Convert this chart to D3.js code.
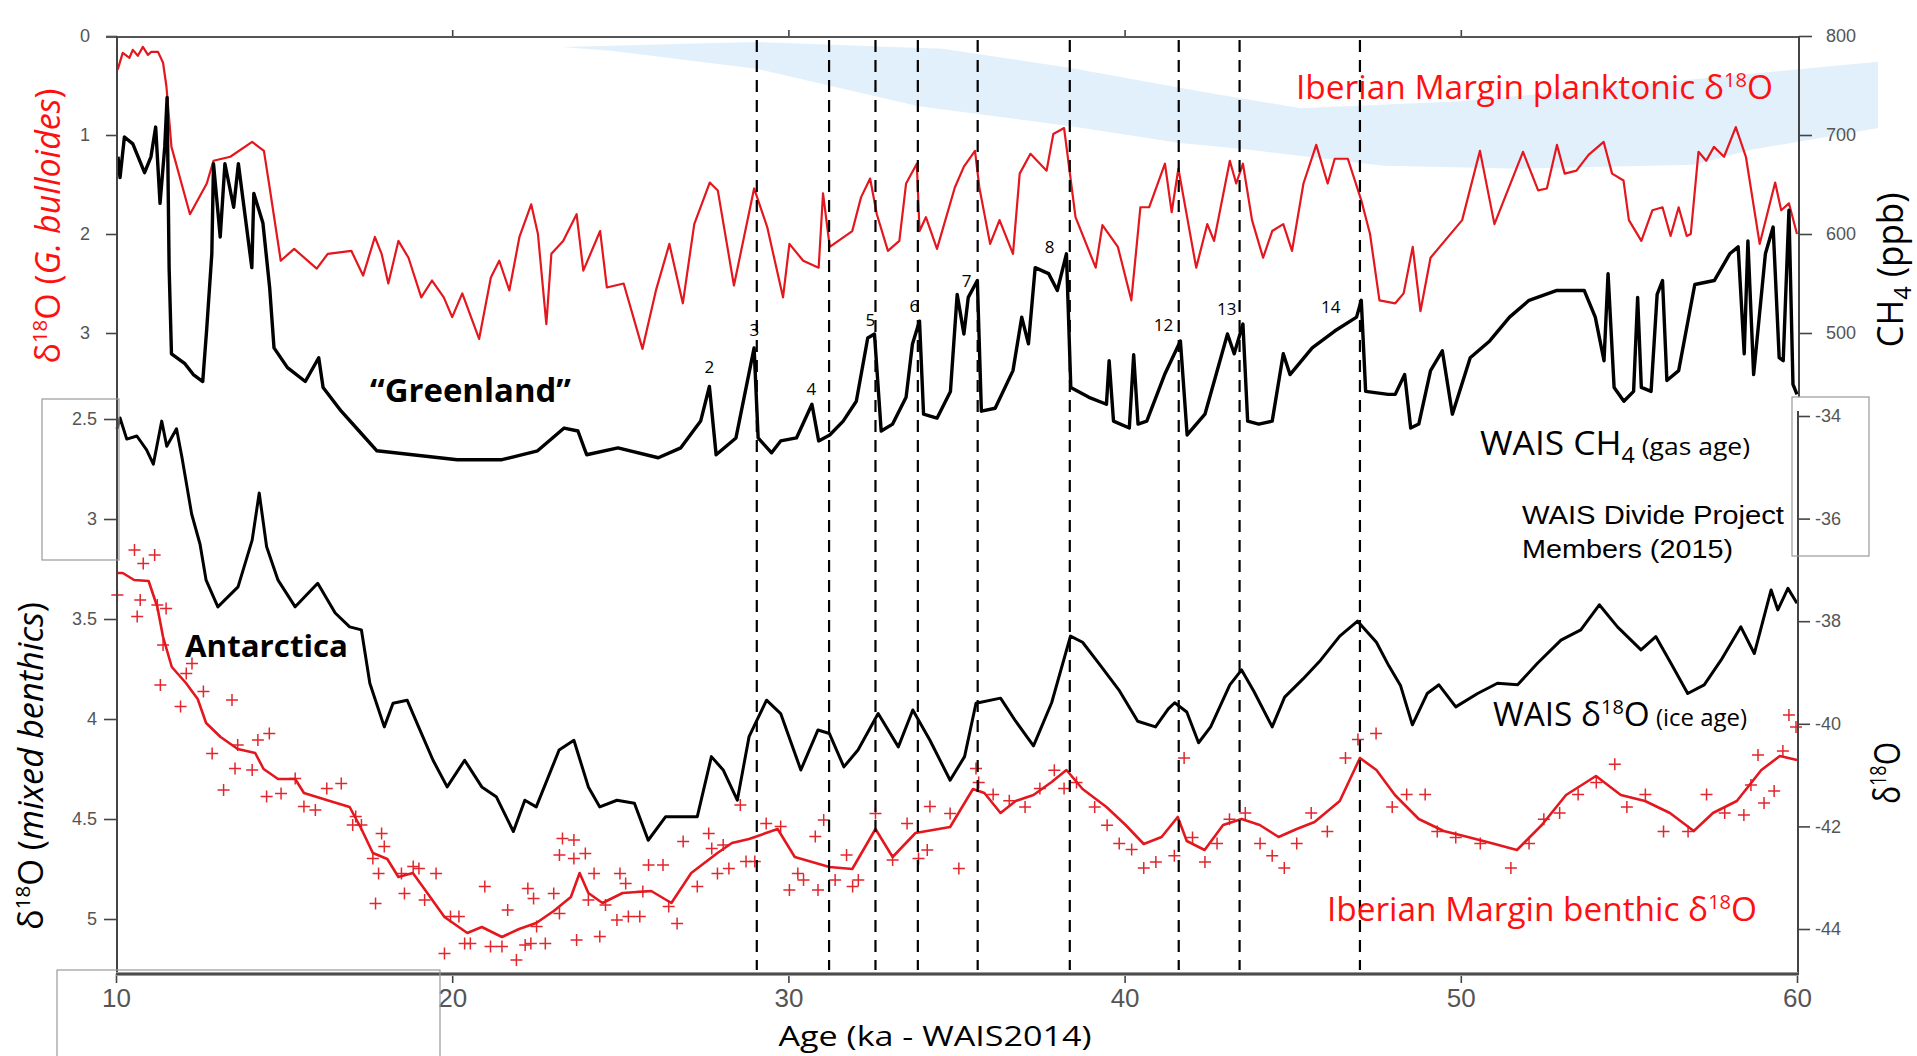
<!DOCTYPE html>
<html lang="en">
<head>
<meta charset="utf-8">
<title>Iberian Margin and WAIS records, 10-60 ka</title>
<style>
  body {margin: 0; background: #fff;}
  svg  {display: block;}
  text {font-family: "Open Sans", "Noto Sans", sans-serif;}
  .tick text {font-family: "Liberation Sans", Arial, sans-serif; fill: #555;}
</style>
</head>
<body>

<svg id="chart" width="1917" height="1056"></svg>

<script src="https://d3js.org/d3.v7.min.js"></script>
<script>
// ---- data (age in ka) ----
const ageTicks   = [10, 20, 30, 40, 50, 60];
const plankTicks = [0, 1, 2, 3];
const ch4Ticks   = [800, 700, 600, 500];
const benthTicks = [2.5, 3, 3.5, 4, 4.5, 5];
const waisTicks  = [-34, -36, -38, -40, -42, -44];

// Dansgaard-Oeschger onsets (dashed lines)
const events = [29.06, 31.21, 32.59, 33.85, 35.63, 38.37, 41.61, 43.42, 47.0];
// interstadial numbers [label, age, ch4 ppb]
const eventLabels = [["2",27.65,466],["3",28.99,503],["4",30.68,443],["5",32.44,513],["6",33.75,527],
  ["7",35.3,552],["8",37.77,587],["12",41.16,508],["13",43.04,524],["14",46.13,526]];

// Iberian Margin planktonic d18O (G. bulloides) [age, permil]
const planktonic = [[10.05,0.34],[10.2,0.17],[10.4,0.22],[10.5,0.14],[10.65,0.2],[10.8,0.11],[10.95,0.19],[11.05,0.16],
  [11.25,0.16],[11.4,0.27],[11.5,0.51],[11.65,1.12],[12.2,1.8],[12.7,1.49],[12.9,1.26],[13.4,1.22],[14.05,1.07],
  [14.4,1.16],[14.57,1.53],[14.9,2.27],[15.3,2.15],[15.97,2.35],[16.3,2.2],[17.0,2.17],[17.35,2.42],[17.7,2.03],
  [17.9,2.2],[18.1,2.5],[18.4,2.07],[18.7,2.24],[19.08,2.64],[19.4,2.47],[19.75,2.64],[20.0,2.84],[20.3,2.6],
  [20.8,3.06],[21.15,2.44],[21.4,2.27],[21.7,2.57],[22.0,2.03],[22.35,1.7],[22.55,2.0],[22.8,2.91],[22.95,2.2],
  [23.3,2.07],[23.7,1.8],[23.9,2.37],[24.4,1.97],[24.6,2.54],[25.1,2.5],[25.66,3.16],[26.06,2.57],[26.46,2.1],
  [26.86,2.7],[27.2,1.9],[27.66,1.48],[27.9,1.56],[28.38,2.52],[28.98,1.54],[29.37,1.93],[29.84,2.64],[30.03,2.1],
  [30.44,2.27],[30.9,2.34],[31.03,1.59],[31.23,2.13],[31.9,1.97],[32.16,1.63],[32.43,1.44],[32.63,1.8],[32.96,2.17],
  [33.3,2.07],[33.5,1.49],[33.82,1.29],[33.9,1.97],[34.09,1.83],[34.42,2.15],[34.95,1.53],[35.22,1.32],[35.55,1.16],
  [35.68,1.53],[36.0,2.1],[36.28,1.86],[36.68,2.2],[36.88,1.39],[37.2,1.19],[37.68,1.36],[37.88,0.99],[38.2,0.93],
  [38.54,1.83],[39.14,2.34],[39.34,1.91],[39.8,2.13],[40.2,2.67],[40.47,1.73],[40.73,1.73],[41.2,1.29],[41.4,1.78],
  [41.6,1.34],[42.13,2.34],[42.46,1.9],[42.66,2.07],[43.13,1.26],[43.32,1.49],[43.52,1.29],[43.79,1.86],[44.12,2.24],
  [44.39,1.97],[44.72,1.9],[44.98,2.17],[45.32,1.49],[45.7,1.1],[46.04,1.49],[46.25,1.24],[46.64,1.24],[47.04,1.66],
  [47.3,2.0],[47.58,2.67],[48.05,2.7],[48.3,2.6],[48.57,2.13],[48.8,2.78],[49.1,2.24],[50.04,1.86],[50.57,1.16],
  [51.0,1.9],[51.85,1.17],[52.3,1.56],[52.56,1.54],[52.86,1.1],[53.09,1.39],[53.44,1.36],[53.8,1.2],[54.25,1.07],
  [54.5,1.39],[54.84,1.46],[55.0,1.86],[55.37,2.07],[55.7,1.76],[56.0,1.73],[56.24,2.02],[56.48,1.73],[56.72,2.02],
  [56.84,2.0],[57.07,1.17],[57.3,1.26],[57.53,1.12],[57.83,1.22],[58.18,0.92],[58.48,1.22],[58.89,2.1],[59.35,1.48],
  [59.53,1.76],[59.76,1.69],[60.0,2.0]];

// WAIS Divide CH4, gas age [age, ppb]
const ch4 = [[10.06,678],[10.12,657],[10.25,698],[10.5,691],[10.85,662],[11.04,678],[11.18,708],[11.31,631],
  [11.45,688],[11.52,738],[11.58,566],[11.65,479],[12.05,469],[12.3,458],[12.58,451],[12.7,505],[12.85,580],[12.9,671],
  [13.1,597],[13.24,671],[13.5,627],[13.64,671],[14.04,566],[14.1,641],[14.37,611],[14.57,546],[14.7,485],
  [15.1,465],[15.63,451],[16.03,475],[16.16,445],[16.7,421],[17.23,401],[17.76,381],[18.82,377],[20.15,372],
  [21.48,372],[22.54,381],[23.33,404],[23.74,401],[24.0,377],[24.93,384],[26.13,374],[26.8,384],[27.39,411],
  [27.65,446],[27.85,377],[28.44,394],[28.98,485],[29.1,394],[29.5,379],[29.77,391],[30.24,394],[30.7,428],
  [30.9,391],[31.23,397],[31.63,411],[32.02,431],[32.36,495],[32.56,499],[32.76,401],[33.1,408],[33.5,435],
  [33.69,489],[33.9,512],[34.02,418],[34.42,414],[34.82,441],[35.02,539],[35.22,499],[35.35,536],[35.62,553],
  [35.74,421],[36.15,424],[36.68,462],[36.94,516],[37.14,489],[37.34,566],[37.74,560],[38.0,543],[38.27,580],
  [38.4,445],[38.94,435],[39.46,428],[39.54,472],[39.67,411],[40.14,404],[40.27,478],[40.4,408],[40.66,411],
  [41.19,458],[41.66,492],[41.86,397],[42.39,418],[43.06,499],[43.26,479],[43.52,509],[43.66,411],[43.99,408],
  [44.39,411],[44.72,479],[44.92,458],[45.58,485],[46.25,502],[46.9,516],[47.04,533],[47.17,441],[47.84,438],
  [48.05,438],[48.33,458],[48.51,404],[48.75,408],[49.1,462],[49.45,482],[49.75,418],[50.28,475],[50.86,492],
  [51.45,516],[52.03,533],[52.86,543],[53.67,543],[54.0,516],[54.26,472],[54.38,560],[54.56,445],[54.85,431],
  [55.14,441],[55.26,536],[55.37,445],[55.66,441],[55.84,539],[56.0,553],[56.13,452],[56.48,462],[56.96,549],
  [57.54,553],[58.0,580],[58.25,587],[58.43,479],[58.54,593],[58.71,458],[59.06,580],[59.29,607],[59.47,475],
  [59.59,472],[59.76,624],[59.88,448],[60.0,438]];

// WAIS Divide d18O, ice age [age, permil]
const waisD18O = [[10.03,-34.25],[10.12,-34.04],[10.32,-34.45],[10.62,-34.39],[10.91,-34.66],[11.11,-34.94],
  [11.36,-34.1],[11.51,-34.59],[11.8,-34.25],[11.96,-34.8],[12.25,-35.91],[12.5,-36.5],[12.68,-37.2],[13.03,-37.72],
  [13.63,-37.33],[14.05,-36.42],[14.26,-35.5],[14.48,-36.55],[14.82,-37.2],[15.33,-37.72],[16.0,-37.26],
  [16.52,-37.84],[16.95,-38.11],[17.3,-38.17],[17.55,-39.21],[17.98,-40.06],[18.24,-39.6],[18.66,-39.54],
  [19.0,-40.06],[19.43,-40.71],[19.85,-41.23],[20.37,-40.71],[20.88,-41.23],[21.31,-41.42],[21.82,-42.1],
  [22.16,-41.49],[22.5,-41.62],[23.18,-40.51],[23.62,-40.32],[24.05,-41.23],[24.39,-41.62],[24.9,-41.49],
  [25.42,-41.55],[25.83,-42.27],[26.35,-41.81],[27.29,-41.81],[27.71,-40.64],[28.06,-40.9],[28.48,-41.49],
  [28.83,-40.25],[29.35,-39.54],[29.77,-39.8],[30.37,-40.9],[30.88,-40.12],[31.22,-40.19],[31.65,-40.84],
  [32.07,-40.51],[32.67,-39.8],[33.27,-40.45],[33.7,-39.73],[34.21,-40.32],[34.81,-41.1],[35.24,-40.64],
  [35.58,-39.6],[36.31,-39.5],[36.76,-39.95],[37.29,-40.43],[37.83,-39.59],[38.39,-38.29],[38.75,-38.41],
  [39.29,-38.87],[39.85,-39.36],[40.39,-39.95],[40.92,-40.06],[41.3,-39.71],[41.49,-39.59],[41.85,-39.77],
  [42.2,-40.37],[42.56,-40.06],[43.13,-39.24],[43.48,-38.95],[43.84,-39.36],[44.39,-40.06],[44.76,-39.48],
  [45.3,-39.13],[45.83,-38.76],[46.4,-38.29],[46.93,-38.0],[47.49,-38.41],[47.86,-38.87],[48.21,-39.26],
  [48.56,-40.02],[49.0,-39.41],[49.35,-39.24],[49.85,-39.67],[50.5,-39.41],[51.09,-39.21],[51.69,-39.24],
  [52.28,-38.82],[52.98,-38.37],[53.57,-38.17],[54.12,-37.68],[54.66,-38.11],[55.36,-38.56],[55.8,-38.3],
  [56.25,-38.82],[56.75,-39.41],[57.24,-39.24],[57.74,-38.76],[58.33,-38.11],[58.73,-38.63],[59.23,-37.39],
  [59.43,-37.78],[59.73,-37.36],[60.0,-37.65]];

// Iberian Margin benthic d18O, smoothed [age, permil]
const benthicLine = [[10.03,3.27],[10.2,3.27],[10.54,3.305],[10.97,3.31],[11.23,3.44],[11.4,3.59],[11.66,3.74],
  [12.08,3.82],[12.43,3.9],[12.68,4.02],[13.11,4.09],[13.62,4.15],[14.14,4.17],[14.39,4.25],[14.82,4.3],
  [15.33,4.3],[15.59,4.37],[16.36,4.41],[16.95,4.44],[17.3,4.55],[17.64,4.67],[18.07,4.7],[18.4,4.79],
  [18.83,4.77],[19.26,4.87],[19.77,4.99],[20.45,5.07],[20.88,5.04],[21.48,5.09],[21.99,5.05],[22.5,5.02],
  [23.02,4.96],[23.53,4.89],[23.79,4.77],[24.05,4.87],[24.47,4.92],[25.07,4.87],[25.92,4.86],[26.52,4.92],
  [27.11,4.77],[27.89,4.67],[28.32,4.62],[28.83,4.6],[29.68,4.55],[30.19,4.69],[31.22,4.74],[31.9,4.75],
  [32.59,4.55],[33.1,4.69],[33.78,4.57],[34.81,4.54],[35.49,4.35],[35.83,4.37],[36.31,4.47],[36.76,4.41],
  [37.29,4.38],[37.83,4.315],[38.27,4.255],[38.75,4.35],[39.46,4.44],[40.03,4.53],[40.57,4.625],[41.1,4.59],
  [41.58,4.49],[41.85,4.61],[42.38,4.655],[42.93,4.53],[43.48,4.5],[44.02,4.53],[44.58,4.59],[45.12,4.55],
  [45.65,4.515],[46.4,4.41],[47.0,4.195],[47.49,4.255],[48.04,4.38],[48.75,4.5],[49.49,4.56],[50.21,4.59],
  [51.01,4.625],[51.67,4.655],[52.41,4.53],[53.13,4.38],[54.02,4.285],[54.76,4.38],[55.48,4.41],[56.22,4.47],
  [56.93,4.56],[57.5,4.47],[58.21,4.41],[58.94,4.255],[59.49,4.185],[60.0,4.205]];

// Iberian Margin benthic d18O, individual measurements [age, permil]
const benthicPts = [[10.55,3.155],[10.81,3.222],[11.15,3.18],[10.04,3.38],[10.63,3.488],[10.72,3.405],[11.23,3.43],
  [11.49,3.447],[11.4,3.63],[12.26,3.722],[12.09,3.772],[11.32,3.83],[11.92,3.938],[12.6,3.863],[13.45,3.905],
  [13.62,4.13],[14.22,4.105],[14.56,4.072],[12.86,4.172],[13.54,4.247],[14.05,4.255],[13.2,4.355],[14.48,4.388],
  [14.91,4.372],[15.33,4.297],[15.59,4.438],[15.93,4.455],[16.27,4.347],[16.7,4.322],[17.13,4.488],[17.04,4.53],
  [17.3,4.53],[17.9,4.572],[17.98,4.638],[17.64,4.697],[17.81,4.772],[17.72,4.922],[18.49,4.772],[18.58,4.872],
  [18.84,4.738],[19.01,4.747],[19.18,4.905],[19.52,4.772],[19.77,5.172],[19.95,4.988],[20.2,4.988],[20.37,5.122],
  [20.54,5.122],[20.97,4.838],[21.14,5.138],[21.48,5.138],[21.65,4.955],[21.91,5.205],[22.17,5.13],[22.34,5.122],
  [22.51,5.038],[22.77,5.122],[22.25,4.847],[22.42,4.897],[23.02,4.872],[23.19,4.972],[23.28,4.597],[23.62,4.605],
  [23.19,4.68],[23.62,4.697],[23.96,4.672],[23.7,5.105],[24.39,5.088],[24.05,4.905],[24.22,4.772],[24.56,4.93],
  [24.99,4.772],[25.16,4.822],[24.9,5.005],[25.24,4.988],[25.58,4.988],[25.67,4.863],[25.84,4.73],[26.27,4.73],
  [26.44,4.938],[26.69,5.022],[26.87,4.613],[27.29,4.838],[27.63,4.572],[27.72,4.647],[27.89,4.772],[28.23,4.747],
  [28.06,4.63],[28.57,4.43],[28.74,4.713],[29.0,4.713],[29.34,4.522],[29.77,4.538],[30.03,4.855],[30.28,4.772],
  [30.45,4.805],[30.8,4.588],[30.88,4.855],[31.05,4.505],[31.39,4.805],[31.73,4.68],[31.91,4.838],[32.08,4.805],
  [32.59,4.472],[33.1,4.705],[33.53,4.522],[33.87,4.697],[34.13,4.655],[34.21,4.438],[34.81,4.472],[35.07,4.747],
  [35.58,4.247],[35.66,4.317],[36.09,4.378],[36.57,4.409],[37.04,4.44],[37.48,4.348],[37.91,4.256],[38.2,4.348],
  [38.57,4.317],[39.11,4.44],[39.48,4.531],[39.84,4.623],[40.21,4.653],[40.57,4.745],[40.93,4.715],[41.48,4.684],
  [41.77,4.195],[42.02,4.592],[42.39,4.715],[42.75,4.623],[43.12,4.501],[43.59,4.47],[44.03,4.623],[44.39,4.684],
  [44.75,4.745],[45.12,4.623],[45.55,4.47],[46.03,4.562],[46.57,4.195],[46.94,4.103],[47.48,4.073],[47.96,4.44],
  [48.39,4.378],[48.94,4.378],[49.3,4.562],[49.85,4.592],[50.58,4.623],[51.49,4.745],[52.03,4.623],[52.47,4.501],
  [52.94,4.47],[53.49,4.378],[54.03,4.317],[54.58,4.226],[54.94,4.44],[55.49,4.378],[56.03,4.562],[56.76,4.562],
  [57.31,4.378],[57.85,4.47],[58.42,4.48],[58.63,4.33],[58.84,4.18],[59.02,4.42],[59.32,4.36],[59.58,4.16],
  [59.76,3.98],[59.97,4.04]];

// light blue ribbon behind the top right, outline [age, ppb]
const band = [[23.27,789],[29.05,794],[34.58,787],[38.36,768],[42.26,744],[45.24,727],[50.0,734],[55.0,750],
  [62.41,774],[62.41,707],[58.63,685],[56.96,670],[51.79,666],[47.71,669],[43.45,686],[41.64,692],[38.36,709],
  [33.87,729],[29.05,767],[24.73,785]];

// ---- scales ----
const svg = d3.select("#chart");
const x      = d3.scaleLinear().domain([10, 60]).range([116, 1797]);
const yPl    = d3.scaleLinear().domain([0, 3]).range([36, 333]);
const yCH4   = d3.scaleLinear().domain([800, 500]).range([36, 333]);
const yBen   = d3.scaleLinear().domain([2.5, 5]).range([419, 919]);
const yWais  = d3.scaleLinear().domain([-34, -44]).range([416, 929]);

const RED = "#e3171d", TXTRED = "#ff1010";

// blue ribbon
svg.append("path")
   .datum(band)
   .attr("d", d3.line().x(d => x(d[0])).y(d => yCH4(d[1])).curve(d3.curveLinearClosed))
   .attr("fill", "#e2f0fb");

// curves
function curve(data, ys, color, w) {
  svg.append("path")
     .datum(data)
     .attr("d", d3.line().x(d => x(d[0])).y(d => ys(d[1])))
     .attr("fill", "none").attr("stroke", color)
     .attr("stroke-width", w).attr("stroke-linejoin", "round");
}
curve(planktonic, yPl, RED, 2.2);
curve(ch4, yCH4, "#000", 3.4);
curve(waisD18O, yWais, "#000", 3);

svg.append("g").selectAll("path")
   .data(benthicPts)
   .join("path")
     .attr("transform", d => `translate(${x(d[0])},${yBen(d[1])})`)
     .attr("d", "M-6,0H6M0,-6V6")
     .attr("stroke", "#e2262c").attr("stroke-width", 1.5);
curve(benthicLine, yBen, RED, 2.6);

// dashed event lines
svg.append("g").selectAll("line")
   .data(events)
   .join("line")
     .attr("x1", d => x(d)).attr("x2", d => x(d))
     .attr("y1", 40).attr("y2", 970)
     .attr("stroke", "#000").attr("stroke-width", 2.2)
     .attr("stroke-dasharray", "12,8");

svg.append("g").selectAll("text")
   .data(eventLabels)
   .join("text")
     .attr("x", d => x(d[1])).attr("y", d => yCH4(d[2]))
     .attr("dy", "0.35em").attr("text-anchor", "middle")
     .attr("font-size", 17)
     .text(d => d[0]);

// ---- axes ----
function styleAxis(g, size) {
  g.select(".domain").remove();
  g.selectAll(".tick line").attr("stroke", "#444").attr("stroke-width", 1.6);
  g.selectAll(".tick text").attr("font-size", size);
}
svg.append("g").attr("transform", "translate(117,0)")
   .call(d3.axisLeft(yPl).tickValues(plankTicks).tickSize(11).tickPadding(16).tickFormat(d3.format("d")))
   .call(g => styleAxis(g, 18));
svg.append("g").attr("transform", "translate(117,0)")
   .call(d3.axisLeft(yBen).tickValues(benthTicks).tickSize(13).tickPadding(7).tickFormat(d => d))
   .call(g => styleAxis(g, 18));
svg.append("g").attr("transform", "translate(1799,0)")
   .call(d3.axisRight(yCH4).tickValues(ch4Ticks).tickSize(13).tickPadding(14))
   .call(g => styleAxis(g, 18));
svg.append("g").attr("transform", "translate(1798,0)")
   .call(d3.axisRight(yWais).tickValues(waisTicks).tickSize(12).tickPadding(5).tickFormat(d => d))
   .call(g => styleAxis(g, 18));
svg.append("g").attr("transform", "translate(0,974)")
   .call(d3.axisBottom(x).tickValues(ageTicks).tickSize(9).tickPadding(6))
   .call(g => styleAxis(g, 26))
   .call(g => g.selectAll(".tick text").attr("fill", "#333"));
svg.append("g").attr("transform", "translate(0,37)")
   .call(d3.axisTop(x).tickValues(ageTicks.slice(1, -1)).tickSize(7).tickFormat(""))
   .call(g => styleAxis(g, 10));

// spines
const spine = (x1, y1, x2, y2, w, c) => svg.append("line")
  .attr("x1", x1).attr("y1", y1).attr("x2", x2).attr("y2", y2)
  .attr("stroke", c).attr("stroke-width", w);
spine(106, 37, 1800, 37, 2, "#555");
spine(117, 36, 117, 975, 2, "#444");
spine(1799, 36, 1799, 397, 2, "#444");
spine(1798, 411, 1798, 975, 2, "#444");
spine(116, 974, 1798, 974, 4, "#999");
spine(116, 974, 1798, 974, 1.6, "#333");

// thin grey frames
const frame = (x0, y0, x1, y1) => svg.append("rect")
  .attr("x", x0).attr("y", y0).attr("width", x1 - x0).attr("height", y1 - y0)
  .attr("fill", "none").attr("stroke", "#9a9a9a").attr("stroke-width", 1.2);
frame(42, 399, 119, 560);
frame(1792, 397, 1869, 556);
frame(57, 970, 440, 1070);

// ---- text ----
function label(x0, y0, parts, o) {
  const t = svg.append("text")
    .attr("x", x0).attr("y", y0)
    .attr("font-size", o.size).attr("fill", o.fill || "#000");
  if (o.weight) t.attr("font-weight", o.weight);
  if (o.family) t.style("font-family", o.family);
  if (o.anchor) t.attr("text-anchor", o.anchor);
  if (o.rotate) t.attr("transform", `rotate(-90,${x0},${y0})`);
  parts.forEach(p => {
    const s = t.append("tspan").text(p[0]);
    if (p[1]) s.attr("font-size", p[1]);
    if (p[2]) s.attr("dy", p[2]);
    if (p[3]) s.attr("font-style", p[3]);
  });
  if (o.len) t.attr("textLength", o.len).attr("lengthAdjust", "spacingAndGlyphs");
  return t;
}
const d18 = (s, rest) => [["δ", s], ["18", s * 0.6, -s * 0.38], ["O" + (rest || ""), s, s * 0.38]];

label(1296, 99, [["Iberian Margin planktonic ", 32], ...d18(32)], {size: 32, fill: TXTRED, len: 477});
label(1327, 921, [["Iberian Margin benthic ", 32], ...d18(32)], {size: 32, fill: TXTRED, len: 430});
label(1480, 455, [["WAIS CH", 32], ["4", 21, 8], [" (gas age)", 24, -8]], {size: 32, len: 270});
label(1493, 726, [["WAIS ", 32], ...d18(32), [" (ice age)", 23]], {size: 32, len: 254});
label(1522, 524, [["WAIS Divide Project"]], {size: 25, family: "Liberation Sans, Arial, sans-serif", len: 262});
label(1522, 558, [["Members (2015)"]], {size: 25, family: "Liberation Sans, Arial, sans-serif", len: 211});
label(370, 402, [["\u201cGreenland\u201d"]], {size: 33, weight: "bold", len: 201});
label(185, 657, [["Antarctica"]], {size: 30, weight: "bold", len: 163});

// axis titles
label(60, 226, [...d18(34), [" (", 34], ["G. bulloides", 34, 0, "italic"], [")", 34]],
      {size: 34, fill: TXTRED, anchor: "middle", rotate: true, len: 275});
label(43, 766, [...d18(34), [" (", 34], ["mixed benthics", 34, 0, "italic"], [")", 34]],
      {size: 34, anchor: "middle", rotate: true, len: 328});
label(1903, 270, [["CH", 36], ["4", 24, 8], [" (ppb)", 36, -8]], {size: 36, anchor: "middle", rotate: true, len: 155});
label(1900, 773, d18(36), {size: 36, anchor: "middle", rotate: true, len: 62});
label(935, 1046, [["Age (ka - WAIS2014)"]], {size: 28, anchor: "middle", len: 313});
</script>

</body>
</html>
